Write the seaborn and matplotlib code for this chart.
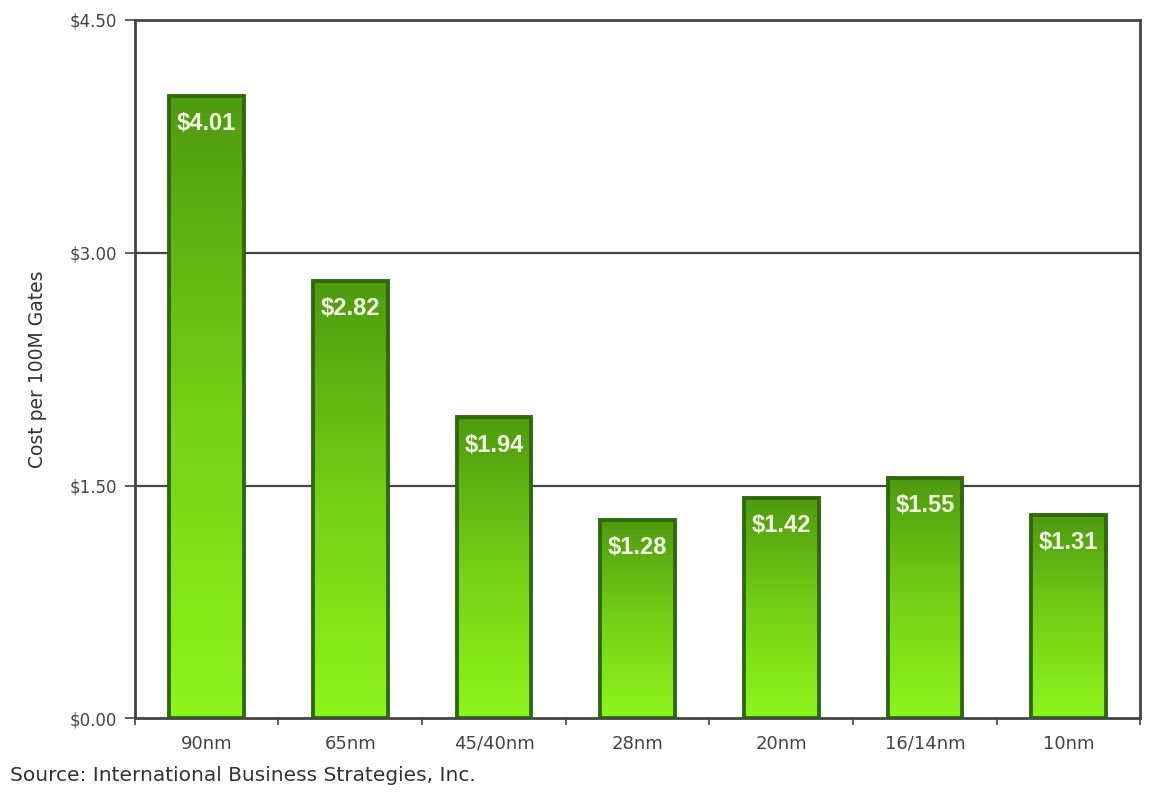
import numpy as np
import pandas as pd
import matplotlib
matplotlib.use("Agg")
import matplotlib.pyplot as plt
import seaborn as sns
from matplotlib.colors import LinearSegmentedColormap

nodes = ["90nm", "65nm", "45/40nm", "28nm", "20nm", "16/14nm", "10nm"]
costs = [4.01, 2.82, 1.94, 1.28, 1.42, 1.55, 1.31]
value_labels = ["$4.01", "$2.82", "$1.94", "$1.28", "$1.42", "$1.55", "$1.31"]
ytick_vals = [0.0, 1.5, 3.0, 4.5]
ytick_labels = ["$0.00", "$1.50", "$3.00", "$4.50"]
y_title = "Cost per 100M Gates"
source = "Source: International Business Strategies, Inc."

sns.set_style("white")
plt.rcParams["font.family"] = ["DejaVu Sans"]

fig = plt.figure(figsize=(11.52, 7.99), dpi=100)
ax = fig.add_axes([0.117, 0.101, 0.873, 0.874])

df = pd.DataFrame({"node": nodes, "cost": costs})
sns.barplot(data=df, x="node", y="cost", ax=ax, width=0.52, color="#6cc21a",
            edgecolor="#2f6a0a", linewidth=2.8, zorder=3)

cmap = LinearSegmentedColormap.from_list("g", ["#8ef51c", "#74d015", "#4f9a10"])
grad = np.linspace(0, 1, 256).reshape(-1, 1)
for p in ax.patches:
    x0, y0, w, h = p.get_x(), p.get_y(), p.get_width(), p.get_height()
    ax.imshow(grad, cmap=cmap, extent=[x0, x0 + w, y0, y0 + h], origin="lower",
              aspect="auto", clip_path=p, zorder=3.5, interpolation="bilinear")
    p.set_facecolor("none")
    p.set_zorder(4)

ax.set_xlim(-0.5, len(nodes) - 0.5)
ax.set_ylim(0, 4.5)

for i, (c, lbl) in enumerate(zip(costs, value_labels)):
    ax.annotate(lbl, (i, c), xytext=(0, -20), textcoords="offset points",
                ha="center", va="center", color="#f2ffe4", fontweight="bold",
                fontsize=17, zorder=6, family="Liberation Sans")

for y in [1.5, 3.0]:
    ax.axhline(y, color="#444444", lw=1.6, zorder=1)

ax.set_yticks(ytick_vals)
ax.set_yticklabels(ytick_labels, color="#444444", fontsize=12)
ax.set_xticks(range(len(nodes)))
ax.set_xticklabels(nodes, color="#444444", fontsize=13)
ax.set_xticks(np.arange(len(nodes) + 1) - 0.5, minor=True)
ax.tick_params(axis="x", which="major", bottom=True, length=0, pad=12)
ax.tick_params(axis="x", which="minor", bottom=True, length=5, width=1.2,
               color="#444444", direction="out")
ax.tick_params(axis="y", left=True, length=7, width=1.2, color="#444444",
               direction="out", pad=6)

for s in ax.spines.values():
    s.set_color("#444444")
    s.set_linewidth(2)
    s.set_visible(True)

ax.set_xlabel("")
ax.set_ylabel(y_title, fontsize=13.5, color="#333333", labelpad=16)

fig.text(0.009, 0.017, source, fontsize=14.5, color="#333333", ha="left", va="bottom")

fig.savefig("out.png", dpi=100)
